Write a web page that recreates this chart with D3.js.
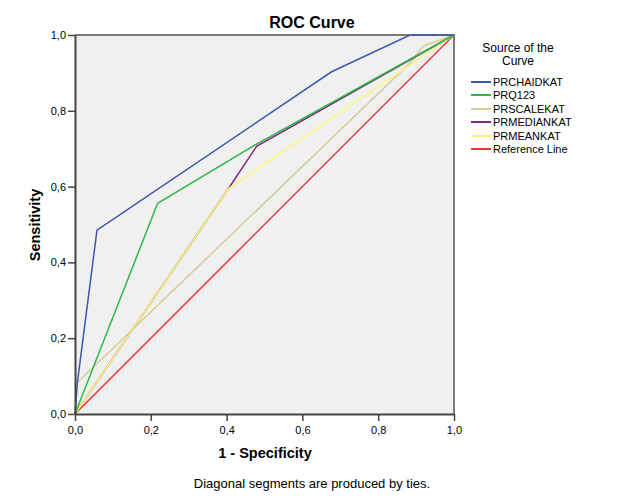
<!DOCTYPE html>
<html><head><meta charset="utf-8">
<script src="https://cdn.jsdelivr.net/npm/d3@7"></script>
<style>body{margin:0;background:#fff}text{font-family:"Liberation Sans",Arial,sans-serif}</style>
</head><body><svg id="c" width="625" height="500"></svg>
<script>
const seriesNames = ["PRCHAIDKAT","PRQ123","PRSCALEKAT","PRMEDIANKAT","PRMEANKAT","Reference Line"];
const seriesColors = ["#3E58AC","#2EB848","#D3CE97","#7C287D","#FBF873","#EF3338"];
const chaidFPR = [0,0.006,0.058,0.677,0.884,1];
const chaidTPR = [0,0.081,0.485,0.903,1,1];
const q123FPR = [0,0.218,0.479,1];
const q123TPR = [0,0.556,0.712,1];
const scaleFPR = [0,0.006,0.884,0.919,1];
const scaleTPR = [0,0.083,0.926,0.971,1];
const medianFPR = [0,0.405,0.479,1];
const medianTPR = [0,0.595,0.706,1];
const meanFPR = [0,0.405,1];
const meanTPR = [0,0.595,1];
const refFPR = [0,1];
const refTPR = [0,1];
const tickVals = [0,0.2,0.4,0.6,0.8,1.0];
const tickLabels = ["0,0","0,2","0,4","0,6","0,8","1,0"];

const series = [
  [chaidFPR,chaidTPR],[q123FPR,q123TPR],[scaleFPR,scaleTPR],
  [medianFPR,medianTPR],[meanFPR,meanTPR],[refFPR,refTPR]
].map((p,i)=>({name:seriesNames[i],color:seriesColors[i],pts:p[0].map((x,j)=>[x,p[1][j]])}));

const svg = d3.select("#c");
const L=75,R=454,T=35,B=414;
const x = d3.scaleLinear().domain([0,1]).range([L,R]);
const y = d3.scaleLinear().domain([0,1]).range([B,T]);

svg.append("rect").attr("x",L).attr("y",T).attr("width",R-L).attr("height",B-T).attr("fill","#f0f0f0");
svg.append("path").attr("d",`M${L},${T}H${R}V${B}`).attr("fill","none").attr("stroke","#7a7a7a").attr("stroke-width",2);

const line = d3.line().x(d=>x(d[0])).y(d=>y(d[1]));
const order=[5,2,3,4,1,0];
order.forEach(i=>{
  const s=series[i];
  svg.append("path").attr("d",line(s.pts)).attr("fill","none").attr("stroke",s.color).attr("stroke-width",1.5);
});

const fmt = (d)=>tickLabels[tickVals.findIndex(v=>Math.abs(v-d)<1e-9)];
const xa = svg.append("g").attr("transform",`translate(0,${B})`).call(d3.axisBottom(x).tickValues(tickVals).tickFormat(fmt).tickSize(7).tickSizeOuter(0));
const ya = svg.append("g").attr("transform",`translate(${L},0)`).call(d3.axisLeft(y).tickValues(tickVals).tickFormat(fmt).tickSize(7).tickSizeOuter(0));
[xa,ya].forEach(a=>{
  a.select(".domain").attr("stroke","#444").attr("stroke-width",2);
  a.selectAll(".tick line").attr("stroke","#444").attr("stroke-width",1.5);
  a.selectAll("text").attr("font-size",11).attr("fill","#000").attr("font-family","Liberation Sans, Arial, sans-serif");
});
xa.selectAll("text").attr("dy","0.95em");
ya.selectAll("text").attr("dx","1px");

svg.append("text").attr("x",312).attr("y",28).attr("text-anchor","middle").attr("font-size",16).attr("font-weight","bold").text("ROC Curve");
svg.append("text").attr("x",265).attr("y",458).attr("text-anchor","middle").attr("font-size",14.5).attr("font-weight","bold").text("1 - Specificity");
svg.append("text").attr("transform","translate(40,225) rotate(-90)").attr("text-anchor","middle").attr("font-size",14.5).attr("font-weight","bold").text("Sensitivity");
svg.append("text").attr("x",312).attr("y",488).attr("text-anchor","middle").attr("font-size",13).text("Diagonal segments are produced by ties.");

svg.append("text").attr("x",518).attr("y",52).attr("text-anchor","middle").attr("font-size",12).text("Source of the");
svg.append("text").attr("x",518).attr("y",65).attr("text-anchor","middle").attr("font-size",12).text("Curve");
const ly=[82,95,109,122,136,149];
series.forEach((s,i)=>{
  svg.append("line").attr("x1",471).attr("x2",491).attr("y1",ly[i]).attr("y2",ly[i]).attr("stroke",s.color).attr("stroke-width",2);
  svg.append("text").attr("x",493).attr("y",ly[i]+4).attr("font-size",11).text(s.name);
});
</script></body></html>
